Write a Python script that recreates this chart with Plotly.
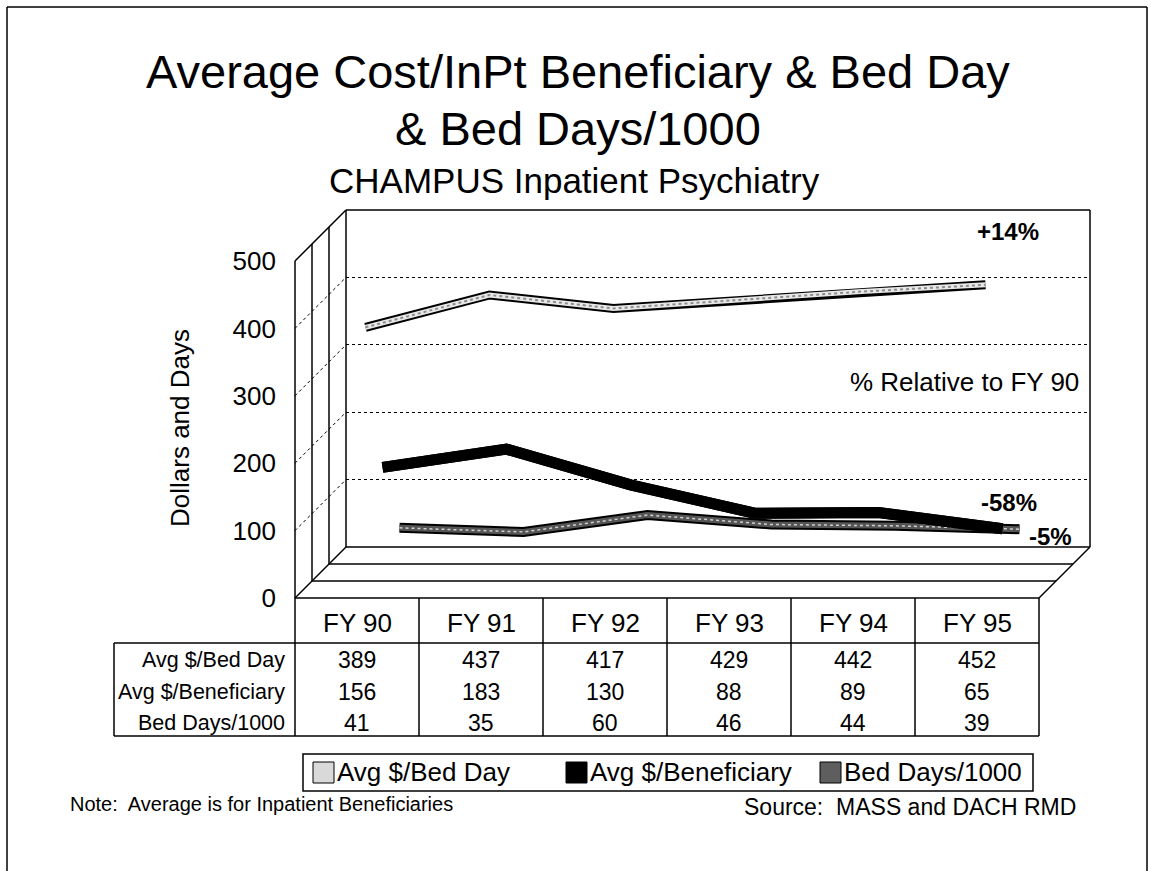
import plotly.graph_objects as go

# ---------------- data ----------------
categories = ["FY 90", "FY 91", "FY 92", "FY 93", "FY 94", "FY 95"]
series_names = ["Avg $/Bed Day", "Avg $/Beneficiary", "Bed Days/1000"]
avg_bed_day = [389, 437, 417, 429, 442, 452]
avg_beneficiary = [156, 183, 130, 88, 89, 65]
bed_days_1000 = [41, 35, 60, 46, 44, 39]
y_ticks = [0, 100, 200, 300, 400, 500]
pct_labels = ["+14%", "-58%", "-5%"]

# ---------------- geometry (pixels) ----------------
W, H = 1151, 871
FX0, FX1 = 295, 1039        # front plane x extent
FY0, FY500 = 598, 261       # front plane y pixel of value 0 / 500
SL = 17                     # depth of one series slice
DEPTH = 3 * SL
FONT = "Liberation Sans, Arial, sans-serif"


def px(x):
    return x / W


def py(y):
    return 1 - y / H


def dom(d):
    return [px(FX0 + d), px(FX1 + d)], [py(FY0 - d), py(FY500 - d)]


def ypix(v, d=0):
    return FY0 - d - (FY0 - FY500) * v / 500.0


xr = [-0.5, len(categories) - 0.5]
xs = list(range(len(categories)))

fig = go.Figure()

# axes: 1 = back wall (grid), 2..4 = series depths, 5 = front (tick labels)
axis_depths = {1: DEPTH, 2: 2.5 * SL, 3: 1.5 * SL, 4: 0.5 * SL, 5: 0}
layout_axes = {}
for k, d in axis_depths.items():
    xd, yd = dom(d)
    xn = "xaxis" if k == 1 else f"xaxis{k}"
    yn = "yaxis" if k == 1 else f"yaxis{k}"
    layout_axes[xn] = dict(domain=xd, range=xr, showgrid=False, zeroline=False,
                           showticklabels=False, ticks="", showline=False, automargin=False,
                           anchor="y" if k == 1 else f"y{k}", fixedrange=True)
    layout_axes[yn] = dict(domain=yd, range=[0, 500], showgrid=False, zeroline=False,
                           showticklabels=False, ticks="", showline=False, automargin=False,
                           anchor="x" if k == 1 else f"x{k}", fixedrange=True)

layout_axes["yaxis"].update(showgrid=True, gridcolor="black", griddash="dot",
                            gridwidth=1, tickmode="array", tickvals=y_ticks[1:-1])
layout_axes["yaxis5"].update(showticklabels=True, tickmode="array", tickvals=y_ticks,
                             ticktext=[str(v) for v in y_ticks],
                             tickfont=dict(size=26, color="black", family=FONT),
                             ticklabelstandoff=18)

# dummy trace to register back-wall axes
fig.add_trace(go.Scatter(x=[None], y=[None], xaxis="x", yaxis="y", showlegend=False,
                         hoverinfo="skip"))

# series ribbons (back to front): values, axis, outline w, fill colour, fill w, dot colour, dot w
series = [
    (bed_days_1000, 2, 10, "#555555", 6, "#d0d0d0", 1.5),
    (avg_beneficiary, 3, 11, "black", 11, None, 0),
    (avg_bed_day, 4, 9, "#e8e8e8", 5, "#8c8c8c", 2),
]
for vals, k, w_out, col, w_in, dcol, dw in series:
    fig.add_trace(go.Scatter(x=xs, y=vals, mode="lines", xaxis=f"x{k}", yaxis=f"y{k}",
                             line=dict(color="black", width=w_out), showlegend=False,
                             hoverinfo="skip"))
    fig.add_trace(go.Scatter(x=xs, y=vals, mode="lines", xaxis=f"x{k}", yaxis=f"y{k}",
                             line=dict(color=col, width=w_in), showlegend=False,
                             hoverinfo="skip"))
    if dcol:
        fig.add_trace(go.Scatter(x=xs, y=vals, mode="lines", xaxis=f"x{k}", yaxis=f"y{k}",
                                 line=dict(color=dcol, width=dw, dash="dot"),
                                 showlegend=False, hoverinfo="skip"))
# dummy trace to register front axes
fig.add_trace(go.Scatter(x=[None], y=[None], xaxis="x5", yaxis="y5", showlegend=False,
                         hoverinfo="skip"))

shapes = []


def line(x0, y0, x1, y1, w=1.5, dash=None, layer="below"):
    ln = dict(color="black", width=w)
    if dash:
        ln["dash"] = dash
    shapes.append(dict(type="line", xref="paper", yref="paper", x0=px(x0), y0=py(y0),
                       x1=px(x1), y1=py(y1), line=ln, layer=layer))


# page border
line(7, 7, 1147, 7)
line(7, 7, 7, 871)
line(1147, 7, 1147, 871)

# left wall verticals and top edge
for k in range(4):
    d = k * SL
    line(FX0 + d, ypix(0, d), FX0 + d, ypix(500, d))
line(FX0, ypix(500), FX0 + DEPTH, ypix(500, DEPTH))
# left wall dotted grid
for v in y_ticks[1:-1]:
    line(FX0, ypix(v), FX0 + DEPTH, ypix(v, DEPTH), w=1, dash="dot")
# back wall top and right edges
line(FX0 + DEPTH, ypix(500, DEPTH), FX1 + DEPTH, ypix(500, DEPTH))
line(FX1 + DEPTH, ypix(500, DEPTH), FX1 + DEPTH, ypix(0, DEPTH))
# floor
for k in range(4):
    d = k * SL
    line(FX0 + d, ypix(0, d), FX1 + d, ypix(0, d))
line(FX0, ypix(0), FX0 + DEPTH, ypix(0, DEPTH))
line(FX1, ypix(0), FX1 + DEPTH, ypix(0, DEPTH))

# data table grid
T_HEAD_BOT, T_BOT, T_LEFT = 643, 736, 114
colw = (FX1 - FX0) / len(categories)
for i in range(len(categories) + 1):
    line(FX0 + i * colw, FY0, FX0 + i * colw, T_BOT)
line(T_LEFT, T_HEAD_BOT, FX1, T_HEAD_BOT)
line(T_LEFT, T_BOT, FX1, T_BOT)
line(T_LEFT, T_HEAD_BOT, T_LEFT, T_BOT)

# legend box & swatches
shapes.append(dict(type="rect", xref="paper", yref="paper", x0=px(303), x1=px(1033),
                   y0=py(791), y1=py(754), line=dict(color="black", width=1.5)))
legend_items = [(313, "#d9d9d9", series_names[0]),
                (566, "black", series_names[1]),
                (820, "#5e5e5e", series_names[2])]
annotations = []
for x0, col, name in legend_items:
    shapes.append(dict(type="rect", xref="paper", yref="paper", x0=px(x0), x1=px(x0 + 21),
                       y0=py(783), y1=py(762), fillcolor=col,
                       line=dict(color="black", width=1)))
    annotations.append(dict(text=name, xref="paper", yref="paper", x=px(x0 + 22), y=py(772),
                            xanchor="left", yanchor="middle", showarrow=False,
                            font=dict(size=26, family=FONT, color="black")))


def ann(text, x, y, size, xanchor="center", bold=False, **kw):
    t = f"<b>{text}</b>" if bold else text
    d = dict(text=t, xref="paper", yref="paper", x=px(x), y=py(y), xanchor=xanchor,
             yanchor="middle", showarrow=False,
             font=dict(size=size, family=FONT, color="black"))
    d.update(kw)
    annotations.append(d)


# titles
ann("Average Cost/InPt Beneficiary &amp; Bed Day", 578, 72, 47)
ann("&amp; Bed Days/1000", 578, 128, 47)
ann("CHAMPUS Inpatient Psychiatry", 574, 181, 35)

# y-axis title
ann("Dollars and Days", 180, 428, 26, textangle=-90)

# in-chart labels
ann(pct_labels[0], 1008, 231, 24, bold=True)
ann("% Relative to FY 90", 964, 382, 26)
ann(pct_labels[1], 1009, 502, 24, bold=True)
ann(pct_labels[2], 1050, 536, 24, bold=True)

# table header and values
for i, cat in enumerate(categories):
    annotations.append(dict(text=cat, xref="x5", yref="paper", x=i, y=py(623),
                            xanchor="center", yanchor="middle", showarrow=False,
                            font=dict(size=26, family=FONT, color="black")))
row_y = [660, 692, 723]
for vals, name, ry in zip([avg_bed_day, avg_beneficiary, bed_days_1000], series_names, row_y):
    ann(name, 287, ry, 21.5, xanchor="right")
    for i, v in enumerate(vals):
        annotations.append(dict(text=str(v), xref="x5", yref="paper", x=i, y=py(ry),
                                xanchor="center", yanchor="middle", showarrow=False,
                                font=dict(size=23, family=FONT, color="black")))

# notes
ann("Note:  Average is for Inpatient Beneficiaries", 68, 804, 20, xanchor="left")
ann("Source:  MASS and DACH RMD", 742, 807, 23, xanchor="left")

fig.update_layout(width=W, height=H, autosize=False,
                  margin=dict(l=0, r=0, t=0, b=0, pad=0, autoexpand=False),
                  paper_bgcolor="white", plot_bgcolor="rgba(0,0,0,0)",
                  showlegend=False, shapes=shapes, annotations=annotations,
                  font=dict(family=FONT, color="black"),
                  **layout_axes)

fig.write_html("out.html", config={"displayModeBar": False, "responsive": False},
               post_script="document.body.style.margin='0';document.body.style.overflow='hidden';")
